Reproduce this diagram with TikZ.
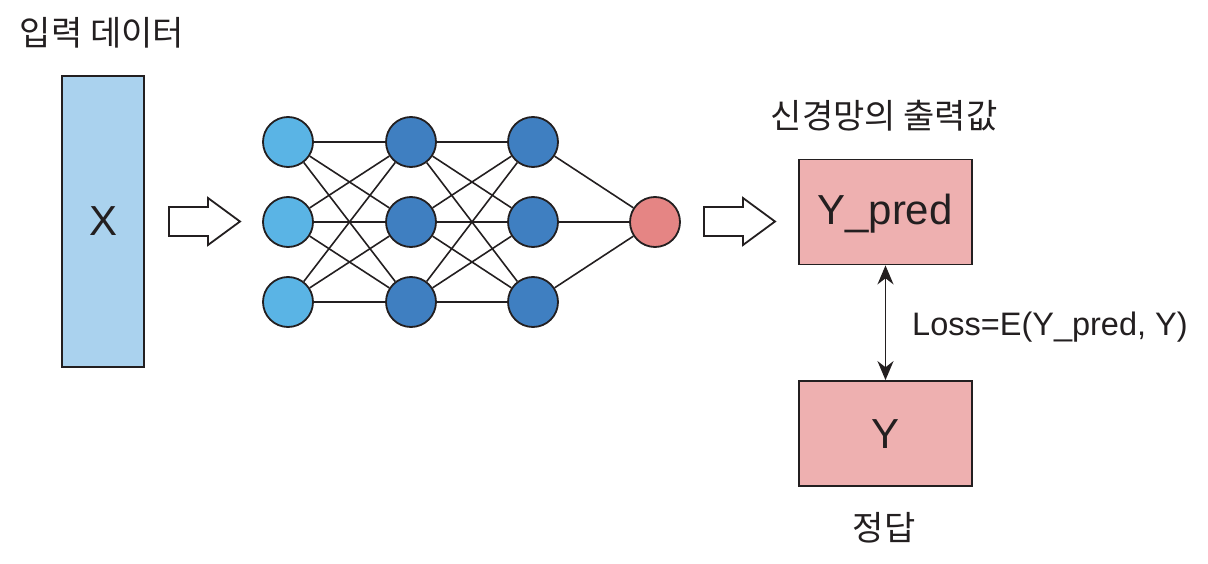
\documentclass[tikz,border=0pt]{standalone}
\usepackage{fontspec}
\setmainfont{Liberation Sans}
\newfontfamily\kr{Noto Sans CJK KR}
\usetikzlibrary{arrows.meta}
\definecolor{inblue}{HTML}{AAD2EE}
\definecolor{lblue}{HTML}{5AB4E5}
\definecolor{dblue}{HTML}{3F7FC1}
\definecolor{outred}{HTML}{E58584}
\definecolor{boxred}{HTML}{EEB0B0}
\definecolor{txt}{HTML}{231F20}
\tikzset{
  neuron/.style={circle, draw=txt, line width=1.8pt, minimum size=50pt, inner sep=0pt},
  inneuron/.style={neuron, fill=lblue},
  hidneuron/.style={neuron, fill=dblue},
  outneuron/.style={neuron, fill=outred},
  resbox/.style={draw=txt, line width=1.8pt, fill=boxred, minimum width=173pt, minimum height=105pt, inner sep=0pt, font=\fontsize{42}{48}\selectfont, text=txt},
  edge/.style={draw=txt, line width=1.6pt},
  label/.style={font=\kr\fontsize{34}{40}\selectfont, text=txt, inner sep=0pt},
  hollow/.style={draw=txt, line width=1.8pt, fill=white, line join=miter}
}
\begin{document}
\begin{tikzpicture}[x=1pt, y=-1pt]
\useasboundingbox (0,0) rectangle (1208,564);
% input
\node[label] (t1) at (102,33) {입력 데이터};
\node[draw=txt, line width=1.8pt, fill=inblue, minimum width=82pt, minimum height=291pt, inner sep=0pt] (X) at (103,221.5) {};
\node[font=\fontsize{42}{48}\selectfont, text=txt, inner sep=0pt] (Xt) at (104,221) {X};
% hollow arrows
\draw[hollow] (169,207) -- (208,207) -- (208,198) -- (240,221.5) -- (208,245) -- (208,236) -- (169,236) -- cycle;
\draw[hollow] (704,207) -- (743,207) -- (743,198) -- (775,221.5) -- (743,245) -- (743,236) -- (704,236) -- cycle;
% neurons
\foreach \i/\y in {1/142,2/222,3/302}{
  \node[inneuron] (a\i) at (288,\y) {};
  \node[hidneuron] (b\i) at (411,\y) {};
  \node[hidneuron] (c\i) at (533,\y) {};
}
\node[outneuron] (o) at (655,222) {};
\foreach \i in {1,2,3}{
  \foreach \j in {1,2,3}{
    \draw[edge] (a\i) -- (b\j);
    \draw[edge] (b\i) -- (c\j);
  }
  \draw[edge] (c\i) -- (o);
}
% outputs
\node[label] (t2) at (884,116) {신경망의 출력값};
\node[resbox] (yp) at (885.5,212) {};
\node[font=\fontsize{42}{48}\selectfont, text=txt, inner sep=0pt] (ypt) at (885,214) {Y\_pred};
\node[resbox] (y) at (885.5,433.5) {};
\node[font=\fontsize{42}{48}\selectfont, text=txt, inner sep=0pt] (yt) at (885,434) {Y};
\node[label] (t3) at (884,528) {정답};
\draw[txt, line width=1.8pt, {Stealth[length=19pt,width=16pt]}-{Stealth[length=19pt,width=16pt]}] (yp.south) -- (y.north);
\node[anchor=west, font=\fontsize{32.5}{36}\selectfont, text=txt, inner sep=0pt] (loss) at (912,327) {Loss=E(Y\_pred, Y)};
\end{tikzpicture}
\end{document}
